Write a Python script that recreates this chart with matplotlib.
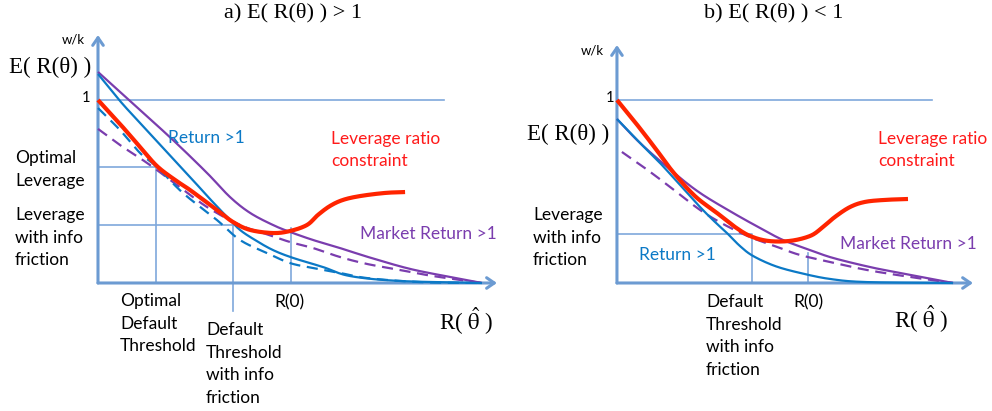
import matplotlib.pyplot as plt
import numpy as np

plt.rcParams['mathtext.fontset'] = 'stix'

SANS = 'Lato'
SERIF = 'Liberation Serif'
AXIS_C = '#6c9bd2'
GRID_C = '#7fa8dc'
BLUE = '#0b79c6'
PURPLE = '#7a3dae'
RED = '#ff2400'

# ---- panel a: E(R(theta)) > 1 ----
a_blue_x = [0, 0.120, 0.230, 0.366, 0.503, 0.612, 0.705, 0.776, 0.858, 0.956, 1.066, 1.230, 1.377, 1.650, 2.098]
a_blue_y = [1.142, 0.995, 0.874, 0.727, 0.579, 0.459, 0.361, 0.290, 0.235, 0.180, 0.137, 0.087, 0.038, 0.011, 0.0]
a_purple_x = [0, 0.175, 0.410, 0.596, 0.721, 0.831, 0.956, 1.049, 1.175, 1.322, 1.486, 1.705, 1.923, 2.098]
a_purple_y = [1.153, 0.995, 0.781, 0.601, 0.470, 0.383, 0.317, 0.279, 0.235, 0.191, 0.139, 0.077, 0.033, 0.0]
a_red_x = [0, 0.120, 0.230, 0.322, 0.421, 0.503, 0.650, 0.738, 0.831, 0.956, 1.049, 1.142,
           1.202, 1.268, 1.339, 1.432, 1.568, 1.678]
a_red_y = [1.0, 0.869, 0.743, 0.639, 0.563, 0.508, 0.399, 0.333, 0.290, 0.273, 0.284, 0.317,
           0.372, 0.421, 0.454, 0.475, 0.492, 0.497]
a_blue_dash_x = [0, 0.120, 0.230, 0.322, 0.464, 0.650, 0.776, 0.923, 1.049, 1.175, 1.322, 1.470, 1.760, 2.098]
a_blue_dash_y = [0.956, 0.836, 0.710, 0.634, 0.492, 0.344, 0.235, 0.164, 0.109, 0.082, 0.055, 0.027, 0.005, 0.0]
a_purple_dash_x = [0, 0.120, 0.268, 0.410, 0.596, 0.776, 0.902, 1.049, 1.175, 1.322, 1.470, 1.650, 1.831, 2.098]
a_purple_dash_y = [0.842, 0.754, 0.656, 0.552, 0.415, 0.317, 0.273, 0.224, 0.191, 0.142, 0.104, 0.071, 0.038, 0.0]

a_opt_lev, a_opt_thr = 0.634, 0.317
a_info_lev, a_info_thr = 0.317, 0.738
a_r0, a_r0_top = 1.055, 0.30

# ---- panel b: E(R(theta)) < 1 ----
b_red_x = [0, 0.098, 0.208, 0.306, 0.426, 0.546, 0.645, 0.727, 0.825, 0.945, 1.055, 1.120,
           1.191, 1.273, 1.355, 1.464, 1.590]
b_red_y = [1.0, 0.880, 0.738, 0.607, 0.475, 0.383, 0.306, 0.257, 0.230, 0.230, 0.257, 0.301,
           0.361, 0.415, 0.443, 0.454, 0.459]
b_blue_x = [0, 0.126, 0.235, 0.344, 0.454, 0.536, 0.601, 0.672, 0.743, 0.863, 1.0, 1.164, 1.366, 1.836]
b_blue_y = [0.896, 0.765, 0.656, 0.536, 0.415, 0.333, 0.273, 0.202, 0.148, 0.093, 0.055, 0.022, 0.005, 0.0]
b_purple_x = [0, 0.126, 0.306, 0.454, 0.634, 0.781, 0.907, 1.055, 1.180, 1.383, 1.546, 1.836]
b_purple_y = [0.896, 0.765, 0.607, 0.492, 0.383, 0.301, 0.235, 0.180, 0.137, 0.087, 0.055, 0.0]
b_purple_dash_x = [0.027, 0.153, 0.290, 0.454, 0.590, 0.727, 0.863, 1.0, 1.191, 1.366, 1.601, 1.836]
b_purple_dash_y = [0.716, 0.628, 0.525, 0.399, 0.317, 0.251, 0.202, 0.153, 0.109, 0.071, 0.033, 0.0]

b_info_lev, b_info_thr = 0.268, 0.738
b_r0, b_r0_top = 1.044, 0.164


def smooth(xs, ys, n=20):
    # Catmull-Rom pass through the points so the curves are not polygonal
    p = np.column_stack([xs, ys]).astype(float)
    p = np.vstack([2 * p[0] - p[1], p, 2 * p[-1] - p[-2]])
    out = []
    t = np.linspace(0, 1, n, endpoint=False)[:, None]
    for i in range(1, len(p) - 2):
        p0, p1, p2, p3 = p[i - 1], p[i], p[i + 1], p[i + 2]
        seg = 0.5 * ((2 * p1) + (-p0 + p2) * t + (2 * p0 - 5 * p1 + 4 * p2 - p3) * t ** 2
                     + (-p0 + 3 * p1 - 3 * p2 + p3) * t ** 3)
        out.append(seg)
    out.append(p[-2][None, :])
    out = np.vstack(out)
    return out[:, 0], out[:, 1]


def curve(ax, xs, ys, color, lw=1.6, dashes=None, z=3):
    sx, sy = smooth(xs, ys)
    line, = ax.plot(sx, sy, color=color, lw=lw, zorder=z, solid_capstyle='butt',
                    clip_on=False)
    if dashes:
        line.set_dashes(dashes)


def axes_frame(ax, xend, yend):
    arrow = dict(arrowstyle='->,head_length=0.55,head_width=0.38', color=AXIS_C, lw=2.2,
                 shrinkA=0, shrinkB=0)
    ax.annotate('', xy=(xend, 0), xytext=(0, 0), arrowprops=arrow)
    ax.annotate('', xy=(0, yend), xytext=(0, 0), arrowprops=arrow)


def label(ax, x, y, s, color='black', ha='left', size=12.5, **kw):
    ax.text(x, y, s, color=color, ha=ha, va='center', fontsize=size, family=SANS,
            linespacing=1.5, **kw)


def serif(ax, x, y, s, size=16.5):
    ax.text(x, y, s, ha='center', va='center', fontsize=size, family=SERIF)


fig = plt.figure(figsize=(9.92, 4.11), dpi=100)
ax_a = fig.add_axes([0, 0, 500 / 992, 1])
ax_b = fig.add_axes([500 / 992, 0, 492 / 992, 1])
ax_a.set_xlim(-0.5355, 2.1967)
ax_b.set_xlim(-0.639, 2.049)
for ax in (ax_a, ax_b):
    ax.set_ylim(-0.6995, 1.5464)
    ax.axis('off')

R_HAT = r'R( $\hat{\mathrm{\theta}}$ )'

# panel a
ax = ax_a
axes_frame(ax, 2.18, 1.355)
ax.plot([0, 1.891], [1, 1], color=GRID_C, lw=1.2)
ax.plot([0, a_opt_thr, a_opt_thr], [a_opt_lev, a_opt_lev, 0], color=GRID_C, lw=1.2)
ax.plot([0, a_info_thr], [a_info_lev, a_info_lev], color=GRID_C, lw=1.2)
ax.plot([a_info_thr, a_info_thr], [a_info_lev, -0.153], color=GRID_C, lw=1.2, clip_on=False)
ax.plot([a_r0, a_r0], [a_r0_top, 0], color=GRID_C, lw=1.2)
curve(ax, a_purple_dash_x, a_purple_dash_y, PURPLE, dashes=(5, 3))
curve(ax, a_blue_dash_x, a_blue_dash_y, BLUE, dashes=(5, 3))
curve(ax, a_purple_x, a_purple_y, PURPLE)
curve(ax, a_blue_x, a_blue_y, BLUE)
curve(ax, a_red_x, a_red_y, RED, lw=3.0, z=4)

serif(ax, 1.066, 1.475, 'a) E( R(θ) ) > 1', size=16)
serif(ax, -0.262, 1.18, 'E( R(θ) )')
serif(ax, 2.011, -0.21, R_HAT)
label(ax, -0.137, 1.328, 'w/k', ha='center', size=9.5)
label(ax, -0.066, 1.01, '1', ha='center', size=10.5)
label(ax, -0.454, 0.620, 'Optimal\nLeverage')
label(ax, -0.454, 0.246, 'Leverage\nwith info\nfriction')
label(ax, 0.120, -0.224, 'Optimal\nDefault\nThreshold')
label(ax, 0.590, -0.443, 'Default\nThreshold\nwith info\nfriction')
label(ax, 1.044, -0.104, 'R(0)', ha='center')
label(ax, 0.383, 0.792, 'Return >1', color=BLUE)
label(ax, 1.273, 0.727, 'Leverage ratio\nconstraint', color='#ff1a1a')
label(ax, 1.432, 0.268, 'Market Return >1', color=PURPLE)

# panel b
ax = ax_b
axes_frame(ax, 1.945, 1.30)
ax.plot([0, 1.721], [1, 1], color=GRID_C, lw=1.2)
ax.plot([0, b_info_thr, b_info_thr], [b_info_lev, b_info_lev, 0], color=GRID_C, lw=1.2)
ax.plot([b_r0, b_r0], [b_r0_top, 0], color=GRID_C, lw=1.2)
curve(ax, b_purple_dash_x, b_purple_dash_y, PURPLE, dashes=(5, 3))
curve(ax, b_purple_x, b_purple_y, PURPLE)
curve(ax, b_blue_x, b_blue_y, BLUE)
curve(ax, b_red_x, b_red_y, RED, lw=3.0, z=4)

serif(ax, 0.858, 1.475, 'b) E( R(θ) ) < 1', size=16)
serif(ax, -0.268, 0.809, 'E( R(θ) )')
serif(ax, 1.661, -0.20, R_HAT)
label(ax, -0.137, 1.268, 'w/k', ha='center', size=9.5)
label(ax, -0.038, 1.01, '1', ha='center', size=10.5)
label(ax, -0.459, 0.246, 'Leverage\nwith info\nfriction')
label(ax, 0.486, -0.290, 'Default\nThreshold\nwith info\nfriction')
label(ax, 1.044, -0.104, 'R(0)', ha='center')
label(ax, 0.120, 0.153, 'Return >1', color=BLUE)
label(ax, 1.426, 0.727, 'Leverage ratio\nconstraint', color='#ff1a1a')
label(ax, 1.219, 0.213, 'Market Return >1', color=PURPLE)

fig.savefig('out.png', dpi=100)
